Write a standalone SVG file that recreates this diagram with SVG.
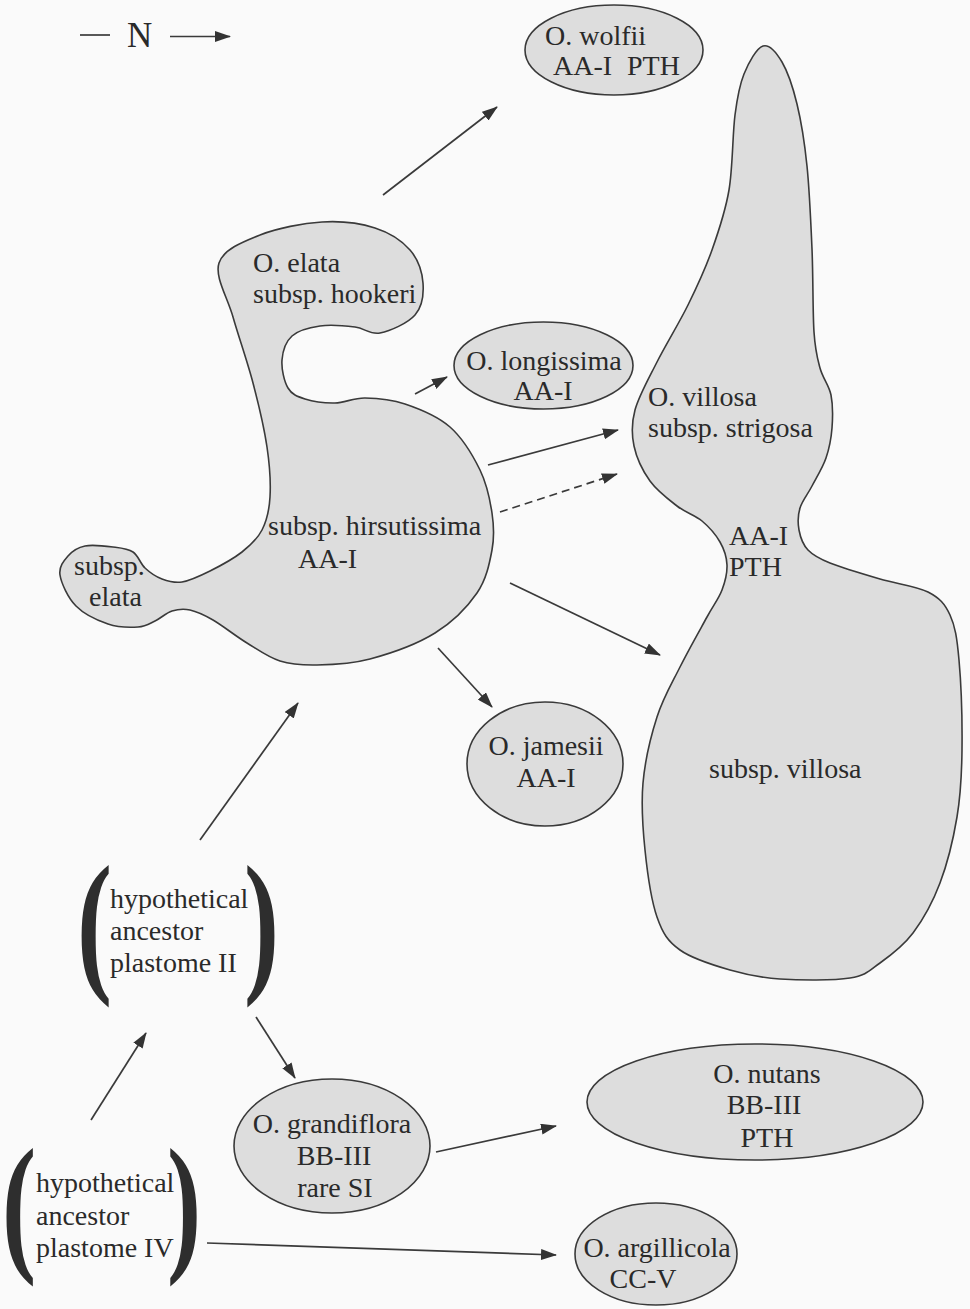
<svg xmlns="http://www.w3.org/2000/svg" width="970" height="1309" viewBox="0 0 970 1309">
<style>
.shape{fill:#dddddd;stroke:#3a3a3a;stroke-width:1.6}
.t{font-family:"Liberation Serif","Times New Roman",serif;font-size:28px;fill:#2a2a2a}
.m{text-anchor:middle}
.par{font-family:"Liberation Serif","Times New Roman",serif;font-weight:bold;fill:#2e2e2e}
.c{fill:none;stroke:#3a3a3a;stroke-width:1.7;marker-end:url(#ah)}
.d{stroke-dasharray:8 5}
</style>
<defs>
<marker id="ah" viewBox="0 0 16 11" markerWidth="16" markerHeight="11" refX="15" refY="5.5" orient="auto" markerUnits="userSpaceOnUse">
<path d="M0,0 L16,5.5 L0,11 Z" fill="#333333"/>
</marker>
</defs>
<rect x="0" y="0" width="970" height="1309" fill="#fafafa"/>

<g id="legend">
<line x1="80" y1="35" x2="110" y2="35" stroke="#3a3a3a" stroke-width="1.7"/>
<text class="t" x="127" y="47" style="font-size:35px">N</text>
<line class="c" x1="170" y1="36.5" x2="230" y2="36.5"/>
</g>

<g id="connectors">
<line class="c" x1="383" y1="195" x2="497" y2="107"/>
<line class="c" x1="415" y1="394" x2="447" y2="377"/>
<line class="c" x1="488" y1="465" x2="618" y2="430"/>
<line class="c d" x1="500" y1="512" x2="617" y2="474"/>
<line class="c" x1="510" y1="583" x2="660" y2="655"/>
<line class="c" x1="438" y1="648" x2="492" y2="707"/>
<line class="c" x1="200" y1="840" x2="298" y2="703"/>
<line class="c" x1="91" y1="1120" x2="146" y2="1033"/>
<line class="c" x1="256" y1="1017" x2="295" y2="1078"/>
<line class="c" x1="436" y1="1152" x2="556" y2="1126"/>
<line class="c" x1="207" y1="1243" x2="556" y2="1255"/>
</g>

<g id="elata-complex">
<path class="shape" d="M219,263 C223.5,249.3 242.8,241.8 260,235 S302.8,223.2 322,222 S360.3,223.3 375,228 S402,240.8 410,250 S422.2,272.2 423,283 S422.2,306.7 415,315 S390,331 380,333 S365,328.2 355,327 S330.5,324.5 320,326 S298.3,330.3 292,336 S282.7,351.3 282,360 S284.2,381.5 288,388 S297.2,396.5 305,399 S325,403.2 335,403 S353.3,397.8 365,398 S390.8,399.2 405,404 S437.5,416 450,427 S473,455.7 480,470 S490,499.7 492,513 S494.5,536.7 492,550 S486.5,579.2 477,593 S452.8,622 435,633 S389.7,653.7 370,659 S332,664.7 317,665 S291.7,664.7 280,661 S258.2,649.8 247,643 S222.5,625.5 213,620 S196.8,611.5 190,610 S177.8,609.2 172,611 S160.7,618.3 155,621 S145.8,626.5 138,627 S118.3,627.5 108,624 S84,614.2 76,606 S61.3,583.3 60,575 S63.8,560.8 68,556 S77.5,547.5 85,546 S105,546 113,547 S127.7,548.5 133,552 S140.2,563.5 145,568 S155.8,576.7 162,579 S174,583.3 182,582 S200,576 210,571 S233.3,558.8 242,552 S257.3,539.2 262,530 S269.2,510.8 270,497 S269.8,466 267,447 S258.7,404.7 253,383 S238.7,337 233,317 S214.5,276.7 219,263 Z"/>
<text class="t" x="253" y="272">O. elata</text>
<text class="t" x="253" y="303">subsp. hookeri</text>
<text class="t" x="268" y="535">subsp. hirsutissima</text>
<text class="t" x="298" y="568">AA-I</text>
<text class="t" x="74" y="575">subsp.</text>
<text class="t" x="89" y="606">elata</text>
</g>

<g id="villosa-complex">
<path class="shape" d="M763,46 C769.3,44 776.3,52.3 782,62 S792.8,86.7 797,104 S804.5,141.8 807,166 S810.8,221.3 812,249 S812.7,312.2 814,332 S817.2,357.5 820,368 S829,385 831,395 S832.8,417.5 832,428 S829.3,448.3 826,458 S816.3,477.7 812,486 S802.2,500.7 800,508 S797.7,523 799,530 S802.8,544.5 808,550 S818,558.2 830,563 S863.7,574.2 880,579 S916.3,586 928,592 S944.8,603.7 950,615 S957,637.5 959,660 S962.3,723.8 962,750 S960.7,794.8 957,817 S947.3,863.7 940,883 S923,919.7 913,933 S890.5,955.5 880,963 S866.7,975.3 850,978 S800,980.3 780,979 S746.7,974.8 730,970 S692.2,958.8 680,950 S662.8,933.7 657,917 S647.3,872.3 645,850 S641,805.2 643,783 S650.8,736.3 657,717 S671.7,683.7 680,667 S700,629.8 707,617 S718.7,598.7 722,590 S727.3,573 727,565 S724.2,549.3 720,542 S709.2,527 702,521 S685.7,512.7 677,506 S657.2,491 650,481 S636.5,457.8 634,446 S631.2,424 635,410 S648.2,379.5 657,362 S678.8,323.7 688,305 S705.2,269.2 712,250 S725.2,212.5 729,190 S732.5,134.3 735,115 S739.3,85.5 744,74 S756.7,48 763,46 Z"/>
<text class="t" x="648" y="406">O. villosa</text>
<text class="t" x="648" y="437">subsp. strigosa</text>
<text class="t" x="729" y="545">AA-I</text>
<text class="t" x="729" y="576">PTH</text>
<text class="t" x="709" y="778">subsp. villosa</text>
</g>

<g id="wolfii">
<ellipse class="shape" cx="614" cy="50" rx="89" ry="45"/>
<text class="t" x="545" y="45">O. wolfii</text>
<text class="t" y="75"><tspan x="553">AA-I</tspan><tspan x="627">PTH</tspan></text>
</g>

<g id="longissima">
<ellipse class="shape" cx="543.5" cy="365.5" rx="89.5" ry="43.5"/>
<text class="t m" x="544" y="370">O. longissima</text>
<text class="t m" x="543" y="400">AA-I</text>
</g>

<g id="jamesii">
<ellipse class="shape" cx="545" cy="764" rx="78" ry="62"/>
<text class="t m" x="546" y="755">O. jamesii</text>
<text class="t m" x="546" y="787">AA-I</text>
</g>

<g id="ancestor-II">
<text class="par" transform="translate(77,974) scale(0.67,1)" style="font-size:157px">(</text>
<text class="par" transform="translate(244,974) scale(0.67,1)" style="font-size:157px">)</text>
<text class="t" x="110" y="908">hypothetical</text>
<text class="t" x="110" y="940">ancestor</text>
<text class="t" x="110" y="972">plastome II</text>
</g>

<g id="ancestor-IV">
<text class="par" transform="translate(2,1254) scale(0.67,1)" style="font-size:153px">(</text>
<text class="par" transform="translate(167,1254) scale(0.67,1)" style="font-size:153px">)</text>
<text class="t" x="36" y="1192">hypothetical</text>
<text class="t" x="36" y="1225">ancestor</text>
<text class="t" x="36" y="1257">plastome IV</text>
</g>

<g id="grandiflora">
<ellipse class="shape" cx="332" cy="1146" rx="98" ry="67"/>
<text class="t m" x="332" y="1133">O. grandiflora</text>
<text class="t m" x="334" y="1165">BB-III</text>
<text class="t m" x="335" y="1197">rare SI</text>
</g>

<g id="nutans">
<ellipse class="shape" cx="755" cy="1102" rx="168" ry="58"/>
<text class="t m" x="767" y="1083">O. nutans</text>
<text class="t m" x="764" y="1114">BB-III</text>
<text class="t m" x="767" y="1147">PTH</text>
</g>

<g id="argillicola">
<ellipse class="shape" cx="656" cy="1254" rx="81" ry="51"/>
<text class="t m" x="657" y="1257">O. argillicola</text>
<text class="t m" x="643" y="1288">CC-V</text>
</g>
</svg>
